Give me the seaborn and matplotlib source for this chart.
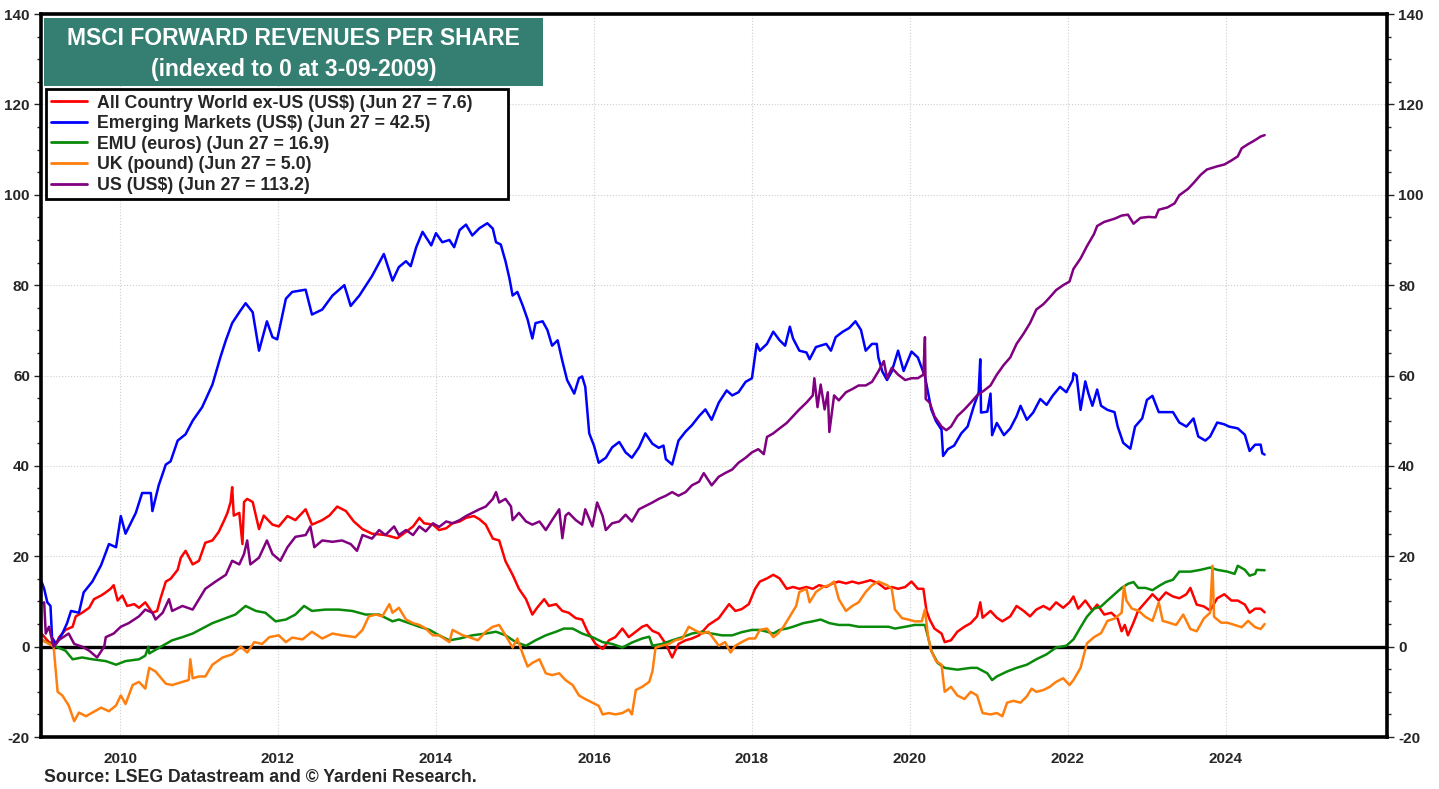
import matplotlib
matplotlib.use("Agg")
import matplotlib.pyplot as plt
import matplotlib.ticker as mticker
from matplotlib.lines import Line2D
from matplotlib.patches import Rectangle
import pandas as pd
import seaborn as sns

# (year, index value)
acwi = [(2009.00, 3.0), (2009.10, 1.0), (2009.19, 0.6), (2009.23, 2.1), (2009.31, 3.7), (2009.40, 4.4),
        (2009.44, 6.7), (2009.52, 7.5), (2009.61, 8.6), (2009.67, 10.5), (2009.76, 11.3), (2009.82, 12.0),
        (2009.88, 12.8), (2009.92, 13.6), (2009.97, 10.2), (2010.03, 11.3), (2010.09, 9.0), (2010.18, 9.4),
        (2010.24, 8.6), (2010.32, 9.8), (2010.41, 7.5), (2010.47, 7.9), (2010.51, 10.5), (2010.58, 14.4),
        (2010.64, 15.0), (2010.73, 17.0), (2010.77, 19.7), (2010.83, 21.2), (2010.92, 18.2), (2011.00, 19.0),
        (2011.08, 23.0), (2011.17, 23.5), (2011.25, 25.4), (2011.32, 28.0), (2011.36, 29.6), (2011.40, 32.0),
        (2011.42, 35.3), (2011.44, 29.0), (2011.51, 29.6), (2011.55, 22.7), (2011.57, 32.0), (2011.61, 32.7),
        (2011.68, 32.0), (2011.76, 26.0), (2011.82, 29.0), (2011.93, 27.0), (2012.01, 26.6), (2012.12, 28.9),
        (2012.22, 28.0), (2012.35, 30.4), (2012.43, 27.0), (2012.56, 28.0), (2012.65, 29.0), (2012.75, 31.0),
        (2012.86, 30.0), (2012.96, 27.7), (2013.07, 26.0), (2013.19, 25.0), (2013.36, 24.7), (2013.51, 24.0),
        (2013.62, 25.4), (2013.71, 26.6), (2013.79, 28.5), (2013.85, 27.3), (2013.96, 27.0), (2014.04, 25.8),
        (2014.13, 26.2), (2014.21, 27.3), (2014.30, 27.7), (2014.38, 28.5), (2014.48, 28.9), (2014.55, 28.2),
        (2014.63, 27.0), (2014.72, 23.9), (2014.80, 23.5), (2014.88, 18.9), (2014.97, 15.9), (2015.05, 12.8),
        (2015.14, 10.5), (2015.22, 7.1), (2015.28, 8.6), (2015.37, 10.5), (2015.43, 9.0), (2015.52, 9.4),
        (2015.60, 7.9), (2015.68, 7.5), (2015.77, 6.3), (2015.85, 6.0), (2015.92, 3.3), (2016.02, 0.6),
        (2016.11, -0.5), (2016.19, 1.4), (2016.27, 2.1), (2016.36, 4.0), (2016.44, 2.1), (2016.53, 3.3),
        (2016.61, 4.4), (2016.67, 4.8), (2016.74, 3.5), (2016.82, 2.9), (2016.91, 0.6), (2016.99, -2.4),
        (2017.07, 0.6), (2017.16, 1.4), (2017.24, 1.8), (2017.33, 2.5), (2017.45, 4.8), (2017.58, 6.3),
        (2017.71, 9.4), (2017.79, 7.9), (2017.87, 8.3), (2017.96, 9.4), (2018.04, 12.8), (2018.10, 14.4),
        (2018.19, 15.1), (2018.27, 15.9), (2018.35, 15.1), (2018.44, 12.8), (2018.52, 13.2), (2018.60, 12.8),
        (2018.69, 13.2), (2018.77, 12.8), (2018.85, 13.6), (2018.94, 13.2), (2019.02, 14.0), (2019.10, 14.4),
        (2019.19, 14.0), (2019.27, 14.4), (2019.35, 14.0), (2019.44, 14.4), (2019.50, 14.7), (2019.60, 14.0),
        (2019.69, 12.8), (2019.77, 13.2), (2019.85, 12.8), (2019.94, 13.2), (2020.02, 14.4), (2020.10, 12.8),
        (2020.17, 12.8), (2020.21, 7.9), (2020.25, 6.0), (2020.31, 4.0), (2020.40, 2.9), (2020.44, 1.0),
        (2020.52, 1.4), (2020.60, 3.3), (2020.69, 4.4), (2020.77, 5.2), (2020.85, 6.7), (2020.89, 9.8),
        (2020.92, 6.4), (2021.02, 7.9), (2021.10, 6.4), (2021.17, 5.6), (2021.27, 6.7), (2021.35, 9.0),
        (2021.44, 7.9), (2021.52, 6.7), (2021.60, 8.2), (2021.69, 9.0), (2021.77, 8.2), (2021.85, 9.8),
        (2021.94, 8.6), (2022.02, 9.8), (2022.07, 11.1), (2022.13, 8.4), (2022.22, 10.2), (2022.31, 8.0),
        (2022.37, 9.3), (2022.46, 7.1), (2022.55, 7.5), (2022.63, 6.2), (2022.68, 3.4), (2022.72, 4.8),
        (2022.76, 2.5), (2022.83, 5.3), (2022.89, 8.0), (2022.98, 9.8), (2023.07, 11.6), (2023.15, 10.2),
        (2023.24, 12.0), (2023.33, 11.1), (2023.41, 10.7), (2023.50, 11.6), (2023.55, 13.0), (2023.63, 9.3),
        (2023.72, 8.9), (2023.80, 8.0), (2023.89, 10.7), (2023.98, 11.6), (2024.07, 10.2), (2024.15, 10.2),
        (2024.24, 9.3), (2024.30, 7.5), (2024.37, 8.4), (2024.44, 8.4), (2024.49, 7.6)]

em = [(2009.00, 14.7), (2009.04, 12.8), (2009.08, 9.8), (2009.12, 9.0), (2009.14, 2.0), (2009.19, 0.6),
      (2009.27, 2.9), (2009.33, 5.2), (2009.38, 7.9), (2009.48, 7.5), (2009.54, 12.0), (2009.65, 14.4),
      (2009.76, 18.0), (2009.86, 22.7), (2009.95, 22.0), (2010.01, 28.9), (2010.07, 25.0), (2010.20, 29.6),
      (2010.28, 34.0), (2010.39, 34.0), (2010.41, 30.0), (2010.49, 35.7), (2010.58, 40.3), (2010.64, 41.0),
      (2010.73, 45.6), (2010.83, 47.0), (2010.92, 50.0), (2011.04, 53.0), (2011.17, 58.0), (2011.27, 64.0),
      (2011.34, 67.8), (2011.42, 71.6), (2011.51, 74.0), (2011.59, 76.0), (2011.68, 74.0), (2011.76, 65.5),
      (2011.86, 72.0), (2011.93, 68.5), (2011.99, 68.0), (2012.10, 77.0), (2012.18, 78.5), (2012.35, 79.0),
      (2012.43, 73.5), (2012.56, 74.6), (2012.69, 77.7), (2012.84, 80.0), (2012.92, 75.4), (2013.03, 77.7),
      (2013.19, 82.0), (2013.34, 86.9), (2013.45, 81.0), (2013.53, 84.0), (2013.62, 85.3), (2013.68, 84.2),
      (2013.75, 88.4), (2013.83, 91.8), (2013.94, 88.8), (2014.00, 91.5), (2014.08, 89.5), (2014.17, 90.0),
      (2014.23, 88.4), (2014.30, 92.2), (2014.38, 93.4), (2014.46, 91.0), (2014.55, 92.6), (2014.65, 93.7),
      (2014.72, 92.5), (2014.76, 89.5), (2014.82, 89.0), (2014.88, 85.3), (2014.93, 81.5), (2014.97, 77.7),
      (2015.03, 78.5), (2015.10, 75.4), (2015.16, 72.4), (2015.22, 68.2), (2015.26, 71.6), (2015.35, 72.0),
      (2015.41, 70.1), (2015.47, 66.6), (2015.54, 67.8), (2015.60, 63.2), (2015.66, 59.0), (2015.75, 56.0),
      (2015.81, 59.4), (2015.85, 59.8), (2015.89, 57.5), (2015.94, 47.2), (2016.00, 44.5), (2016.06, 40.7),
      (2016.15, 41.8), (2016.23, 44.1), (2016.32, 45.3), (2016.40, 43.0), (2016.48, 41.8), (2016.57, 44.1),
      (2016.65, 47.2), (2016.74, 44.9), (2016.82, 44.0), (2016.88, 44.5), (2016.91, 41.5), (2016.99, 40.3),
      (2017.07, 45.6), (2017.16, 47.6), (2017.24, 49.0), (2017.33, 51.0), (2017.41, 52.5), (2017.49, 50.2),
      (2017.58, 54.0), (2017.68, 56.7), (2017.75, 55.6), (2017.83, 56.3), (2017.92, 58.6), (2018.00, 59.4),
      (2018.06, 67.0), (2018.10, 65.5), (2018.19, 67.0), (2018.27, 69.7), (2018.35, 67.8), (2018.42, 66.6),
      (2018.48, 70.8), (2018.52, 68.2), (2018.60, 65.5), (2018.69, 65.1), (2018.73, 63.6), (2018.81, 66.3),
      (2018.94, 67.0), (2019.00, 65.5), (2019.06, 68.5), (2019.15, 69.7), (2019.23, 70.5), (2019.31, 72.0),
      (2019.38, 70.1), (2019.44, 65.5), (2019.52, 67.0), (2019.58, 67.0), (2019.60, 64.0), (2019.65, 60.9),
      (2019.71, 59.0), (2019.77, 60.9), (2019.85, 65.5), (2019.92, 61.0), (2020.02, 65.3), (2020.10, 64.0),
      (2020.19, 59.8), (2020.27, 52.5), (2020.33, 49.9), (2020.40, 48.0), (2020.42, 42.2), (2020.48, 43.7),
      (2020.56, 44.5), (2020.65, 47.2), (2020.73, 48.7), (2020.81, 53.3), (2020.87, 56.3), (2020.89, 63.6),
      (2020.90, 51.8), (2020.98, 52.0), (2021.02, 56.0), (2021.04, 46.8), (2021.10, 49.5), (2021.19, 46.8),
      (2021.27, 48.3), (2021.35, 51.0), (2021.40, 53.3), (2021.48, 50.2), (2021.56, 51.8), (2021.65, 54.8),
      (2021.73, 53.5), (2021.81, 55.6), (2021.90, 57.5), (2021.98, 56.3), (2022.06, 59.0), (2022.07, 60.5),
      (2022.11, 60.0), (2022.16, 52.4), (2022.22, 58.7), (2022.26, 56.0), (2022.31, 53.3), (2022.37, 56.9),
      (2022.42, 53.3), (2022.50, 52.4), (2022.59, 51.9), (2022.63, 48.7), (2022.70, 45.1), (2022.79, 43.8),
      (2022.85, 48.7), (2022.94, 50.5), (2023.00, 54.6), (2023.07, 55.5), (2023.15, 51.9), (2023.24, 51.9),
      (2023.33, 51.9), (2023.41, 49.6), (2023.50, 48.7), (2023.59, 50.5), (2023.65, 46.5), (2023.74, 45.6),
      (2023.80, 46.5), (2023.89, 49.6), (2023.98, 49.2), (2024.04, 48.7), (2024.15, 48.3), (2024.24, 46.9),
      (2024.30, 43.3), (2024.37, 44.7), (2024.44, 44.7), (2024.46, 42.8), (2024.49, 42.5)]

emu = [(2009.02, 1.4), (2009.19, 0.0), (2009.31, -0.9), (2009.40, -2.8), (2009.52, -2.4), (2009.65, -2.8),
       (2009.82, -3.2), (2009.95, -4.0), (2010.07, -3.2), (2010.24, -2.8), (2010.32, -2.0), (2010.36, 0.0),
       (2010.37, -1.5), (2010.43, -0.9), (2010.54, 0.2), (2010.66, 1.4), (2010.79, 2.1), (2010.92, 2.9),
       (2011.04, 4.0), (2011.17, 5.2), (2011.34, 6.3), (2011.46, 7.1), (2011.59, 9.0), (2011.72, 7.9),
       (2011.84, 7.5), (2011.97, 5.6), (2012.10, 6.0), (2012.22, 7.1), (2012.33, 9.0), (2012.43, 7.9),
       (2012.60, 8.2), (2012.77, 8.2), (2012.94, 7.9), (2013.11, 7.1), (2013.28, 7.1), (2013.45, 5.6),
       (2013.53, 6.0), (2013.66, 5.2), (2013.79, 4.4), (2013.92, 3.7), (2014.04, 2.5), (2014.17, 1.4),
       (2014.30, 1.8), (2014.46, 2.5), (2014.63, 2.9), (2014.76, 3.3), (2014.88, 2.5), (2015.01, 1.0),
       (2015.14, 0.2), (2015.26, 1.4), (2015.39, 2.5), (2015.52, 3.3), (2015.62, 4.0), (2015.73, 4.0),
       (2015.85, 2.9), (2015.98, 2.1), (2016.11, 1.0), (2016.23, 0.6), (2016.36, -0.2), (2016.48, 0.9),
       (2016.61, 1.8), (2016.70, 2.2), (2016.74, 0.2), (2016.86, 0.6), (2016.99, 1.4), (2017.12, 2.1),
       (2017.24, 2.9), (2017.37, 3.3), (2017.49, 2.9), (2017.62, 2.5), (2017.75, 2.5), (2017.87, 3.2),
       (2018.00, 3.7), (2018.10, 3.7), (2018.19, 3.3), (2018.27, 2.9), (2018.35, 3.7), (2018.44, 4.0),
       (2018.52, 4.4), (2018.65, 5.2), (2018.77, 5.6), (2018.87, 6.0), (2018.98, 5.2), (2019.10, 4.8),
       (2019.23, 4.8), (2019.35, 4.4), (2019.48, 4.4), (2019.60, 4.4), (2019.73, 4.4), (2019.81, 4.0),
       (2019.94, 4.4), (2020.06, 4.8), (2020.19, 4.8), (2020.23, 2.1), (2020.27, -0.9), (2020.35, -3.6),
       (2020.44, -4.7), (2020.60, -5.1), (2020.77, -4.7), (2020.85, -4.7), (2020.98, -5.9), (2021.04, -7.4),
       (2021.10, -6.6), (2021.23, -5.5), (2021.35, -4.7), (2021.48, -4.0), (2021.60, -2.8), (2021.73, -1.7),
       (2021.85, -0.2), (2021.98, 0.2), (2022.07, 1.6), (2022.16, 4.3), (2022.24, 6.6), (2022.33, 8.4),
       (2022.42, 8.9), (2022.50, 10.2), (2022.59, 11.6), (2022.68, 13.0), (2022.76, 13.9), (2022.83, 14.3),
       (2022.89, 13.0), (2022.98, 13.0), (2023.07, 12.5), (2023.15, 13.4), (2023.24, 14.3), (2023.33, 14.8),
       (2023.41, 16.6), (2023.55, 16.6), (2023.68, 17.0), (2023.80, 17.5), (2023.89, 17.0), (2024.02, 16.6),
       (2024.11, 16.1), (2024.15, 17.9), (2024.24, 17.0), (2024.30, 15.7), (2024.37, 16.1), (2024.39, 17.0),
       (2024.49, 16.9)]

uk = [(2009.02, 1.4), (2009.16, 0.0), (2009.21, -10.0), (2009.27, -10.8), (2009.35, -13.0), (2009.42, -16.5),
      (2009.48, -14.6), (2009.57, -15.4), (2009.65, -14.6), (2009.76, -13.5), (2009.86, -14.3), (2009.95, -13.0),
      (2010.01, -10.8), (2010.07, -12.7), (2010.16, -8.5), (2010.24, -7.8), (2010.32, -9.3), (2010.37, -4.7),
      (2010.45, -5.5), (2010.58, -8.2), (2010.66, -8.5), (2010.79, -7.8), (2010.87, -7.4), (2010.89, -2.8),
      (2010.92, -7.0), (2011.00, -6.6), (2011.08, -6.6), (2011.17, -4.0), (2011.30, -2.4), (2011.42, -1.7),
      (2011.53, 0.0), (2011.61, -1.3), (2011.70, 1.0), (2011.80, 0.6), (2011.89, 2.1), (2012.01, 2.5),
      (2012.10, 1.0), (2012.18, 2.0), (2012.31, 1.6), (2012.43, 3.3), (2012.56, 1.8), (2012.69, 2.9),
      (2012.81, 2.5), (2012.98, 2.1), (2013.07, 3.7), (2013.15, 6.7), (2013.24, 7.1), (2013.32, 6.7),
      (2013.41, 9.4), (2013.45, 7.5), (2013.53, 8.6), (2013.62, 6.0), (2013.71, 5.2), (2013.79, 4.8),
      (2013.87, 4.0), (2013.96, 2.5), (2014.04, 2.5), (2014.17, 1.0), (2014.21, 3.7), (2014.34, 2.5),
      (2014.42, 2.1), (2014.53, 1.4), (2014.63, 3.3), (2014.72, 4.4), (2014.80, 4.8), (2014.88, 2.5),
      (2014.97, -0.2), (2015.03, 1.8), (2015.10, -1.7), (2015.16, -4.4), (2015.22, -3.6), (2015.31, -2.8),
      (2015.39, -5.9), (2015.47, -6.3), (2015.56, -5.9), (2015.64, -7.4), (2015.73, -8.5), (2015.81, -10.8),
      (2015.89, -11.6), (2015.98, -12.4), (2016.06, -13.1), (2016.11, -15.0), (2016.19, -14.7), (2016.27, -15.0),
      (2016.36, -14.7), (2016.44, -13.9), (2016.48, -15.0), (2016.53, -9.6), (2016.61, -8.9), (2016.70, -7.8),
      (2016.74, -5.5), (2016.78, -0.2), (2016.86, 0.2), (2016.95, 0.6), (2017.03, 1.4), (2017.12, 1.8),
      (2017.20, 4.4), (2017.28, 3.6), (2017.37, 2.9), (2017.45, 3.3), (2017.58, 0.2), (2017.66, 1.0),
      (2017.73, -1.3), (2017.79, 0.2), (2017.87, 1.0), (2017.96, 1.8), (2018.04, 1.8), (2018.10, 3.7),
      (2018.19, 4.0), (2018.27, 2.1), (2018.33, 2.9), (2018.40, 4.4), (2018.48, 6.7), (2018.56, 9.0),
      (2018.60, 12.1), (2018.69, 12.8), (2018.73, 9.8), (2018.81, 12.1), (2018.90, 13.2), (2018.98, 13.6),
      (2019.04, 14.4), (2019.10, 10.5), (2019.19, 7.9), (2019.27, 9.0), (2019.35, 9.8), (2019.44, 12.1),
      (2019.52, 13.6), (2019.60, 14.4), (2019.71, 13.6), (2019.77, 12.8), (2019.81, 8.2), (2019.90, 6.3),
      (2019.98, 6.0), (2020.06, 5.6), (2020.15, 5.6), (2020.19, 8.2), (2020.23, 2.1), (2020.27, -0.9),
      (2020.33, -3.2), (2020.40, -4.0), (2020.44, -10.0), (2020.52, -8.9), (2020.60, -10.8), (2020.69, -11.6),
      (2020.77, -10.0), (2020.85, -10.8), (2020.92, -14.7), (2021.02, -15.0), (2021.10, -14.7), (2021.17, -15.4),
      (2021.23, -12.4), (2021.31, -12.0), (2021.40, -12.4), (2021.48, -11.0), (2021.54, -9.3), (2021.60, -10.0),
      (2021.69, -9.6), (2021.77, -8.9), (2021.85, -7.8), (2021.94, -7.0), (2022.02, -8.5), (2022.07, -7.4),
      (2022.16, -4.7), (2022.24, 0.7), (2022.33, 2.1), (2022.42, 3.0), (2022.50, 5.7), (2022.59, 6.2),
      (2022.68, 7.5), (2022.71, 13.4), (2022.74, 10.2), (2022.81, 8.4), (2022.89, 8.0), (2022.98, 6.6),
      (2023.07, 5.7), (2023.15, 9.8), (2023.20, 5.7), (2023.28, 5.3), (2023.37, 4.8), (2023.46, 7.1),
      (2023.55, 3.9), (2023.63, 3.4), (2023.72, 6.2), (2023.80, 7.5), (2023.83, 17.9), (2023.85, 6.6),
      (2023.94, 5.3), (2024.02, 5.3), (2024.11, 4.8), (2024.20, 4.3), (2024.28, 5.7), (2024.37, 4.3),
      (2024.44, 3.9), (2024.49, 5.0)]

us = [(2009.00, 9.5), (2009.04, 9.8), (2009.06, 2.9), (2009.10, 4.4), (2009.16, 0.0), (2009.23, 1.5),
      (2009.35, 2.9), (2009.42, 0.6), (2009.52, 0.0), (2009.61, -0.9), (2009.71, -2.4), (2009.80, 0.0),
      (2009.82, 2.1), (2009.92, 2.9), (2010.01, 4.4), (2010.11, 5.2), (2010.24, 6.7), (2010.32, 8.2),
      (2010.41, 7.5), (2010.45, 6.0), (2010.54, 7.5), (2010.62, 10.5), (2010.66, 7.9), (2010.79, 9.0),
      (2010.92, 8.2), (2011.00, 10.5), (2011.08, 12.8), (2011.21, 14.4), (2011.34, 15.9), (2011.42, 19.0),
      (2011.51, 18.2), (2011.57, 20.5), (2011.61, 23.5), (2011.65, 18.2), (2011.76, 19.7), (2011.86, 23.5),
      (2011.93, 20.5), (2012.03, 19.0), (2012.12, 22.0), (2012.22, 24.3), (2012.35, 24.7), (2012.41, 26.6),
      (2012.46, 22.0), (2012.56, 23.5), (2012.69, 23.2), (2012.81, 23.5), (2012.92, 22.7), (2013.00, 21.2),
      (2013.07, 24.7), (2013.19, 23.9), (2013.28, 25.8), (2013.36, 24.7), (2013.47, 26.6), (2013.53, 24.7),
      (2013.62, 25.8), (2013.71, 24.7), (2013.79, 26.6), (2013.87, 25.5), (2013.96, 27.3), (2014.04, 26.5),
      (2014.13, 27.7), (2014.21, 27.3), (2014.30, 28.0), (2014.38, 28.9), (2014.46, 29.6), (2014.55, 30.4),
      (2014.63, 31.0), (2014.72, 32.7), (2014.76, 34.2), (2014.80, 31.9), (2014.88, 32.7), (2014.95, 31.0),
      (2014.97, 28.0), (2015.05, 29.6), (2015.14, 27.7), (2015.22, 27.0), (2015.31, 27.7), (2015.39, 25.8),
      (2015.47, 28.0), (2015.56, 30.4), (2015.60, 24.0), (2015.64, 29.0), (2015.68, 29.6), (2015.77, 28.0),
      (2015.85, 27.0), (2015.89, 30.4), (2015.98, 26.6), (2016.04, 31.9), (2016.11, 28.9), (2016.15, 25.8),
      (2016.23, 27.3), (2016.32, 27.7), (2016.40, 29.2), (2016.48, 27.7), (2016.57, 30.4), (2016.65, 31.1),
      (2016.74, 31.9), (2016.82, 32.7), (2016.91, 33.4), (2016.99, 34.2), (2017.07, 33.4), (2017.16, 34.2),
      (2017.24, 35.7), (2017.33, 36.5), (2017.39, 38.4), (2017.49, 35.7), (2017.58, 37.6), (2017.66, 38.4),
      (2017.75, 39.2), (2017.83, 40.7), (2017.92, 41.8), (2018.00, 43.0), (2018.08, 43.7), (2018.15, 42.6),
      (2018.19, 46.4), (2018.27, 47.2), (2018.35, 48.3), (2018.44, 49.5), (2018.52, 51.0), (2018.60, 52.5),
      (2018.69, 54.0), (2018.77, 55.6), (2018.79, 59.4), (2018.83, 53.0), (2018.87, 58.0), (2018.92, 52.5),
      (2018.96, 56.3), (2018.98, 47.5), (2019.04, 55.6), (2019.10, 54.5), (2019.19, 56.3), (2019.27, 57.0),
      (2019.35, 57.8), (2019.44, 57.8), (2019.52, 58.6), (2019.60, 60.9), (2019.67, 63.2), (2019.71, 59.4),
      (2019.77, 61.7), (2019.85, 60.2), (2019.94, 59.0), (2020.02, 59.4), (2020.10, 59.4), (2020.17, 60.2),
      (2020.19, 68.5), (2020.20, 54.8), (2020.25, 54.0), (2020.31, 51.0), (2020.40, 48.7), (2020.46, 47.9),
      (2020.52, 48.7), (2020.60, 51.0), (2020.69, 52.5), (2020.77, 54.0), (2020.85, 55.6), (2020.94, 56.7),
      (2021.02, 57.8), (2021.10, 60.2), (2021.19, 62.4), (2021.27, 64.0), (2021.35, 67.0), (2021.44, 69.3),
      (2021.52, 71.6), (2021.60, 74.6), (2021.69, 75.8), (2021.77, 77.3), (2021.85, 78.9), (2021.94, 80.0),
      (2022.02, 80.8), (2022.07, 83.6), (2022.16, 85.9), (2022.24, 88.6), (2022.33, 91.3), (2022.37, 93.1),
      (2022.46, 94.0), (2022.59, 94.7), (2022.68, 95.4), (2022.76, 95.6), (2022.83, 93.6), (2022.92, 94.9),
      (2023.02, 95.1), (2023.11, 95.0), (2023.15, 96.7), (2023.26, 97.2), (2023.35, 98.1), (2023.41, 99.9),
      (2023.52, 101.3), (2023.59, 102.6), (2023.68, 104.4), (2023.76, 105.6), (2023.89, 106.3), (2023.98, 106.7),
      (2024.07, 107.6), (2024.15, 108.5), (2024.20, 110.3), (2024.28, 111.2), (2024.37, 112.1), (2024.44, 112.9),
      (2024.49, 113.2)]

labels = ["All Country World ex-US (US$) (Jun 27 = 7.6)",
          "Emerging Markets (US$) (Jun 27 = 42.5)",
          "EMU (euros) (Jun 27 = 16.9)",
          "UK (pound) (Jun 27 = 5.0)",
          "US (US$) (Jun 27 = 113.2)"]
colors = ["#ff0000", "#0000ff", "#0a8a0a", "#ff7f0e", "#800080"]
year_ticks = [2010, 2012, 2014, 2016, 2018, 2020, 2022, 2024]

# long table for seaborn
frames = []
for name, pts in zip(labels, [acwi, em, emu, uk, us]):
    d = pd.DataFrame(pts, columns=["year", "value"])
    d["series"] = name
    frames.append(d)
df = pd.concat(frames, ignore_index=True)

sns.set_style("white")
plt.rcParams["font.family"] = ["Liberation Sans", "DejaVu Sans"]
plt.rcParams["font.weight"] = "bold"
plt.rcParams["axes.unicode_minus"] = False

fig = plt.figure(figsize=(14.39, 7.89), dpi=100)
ax = fig.add_axes([0.0285, 0.0659, 0.9354, 0.9163])

ax.axhline(0, color="black", lw=2.4, zorder=1)
sns.lineplot(data=df, x="year", y="value", hue="series", hue_order=labels,
             palette=colors, estimator=None, sort=False, lw=1.8, legend=False, ax=ax, zorder=2)

ax.set_xlim(2009.0, 2026.04)
ax.set_ylim(-20, 140)
ax.set_xlabel("")
ax.set_ylabel("")

ax.xaxis.set_major_locator(mticker.FixedLocator(year_ticks))
ax.xaxis.set_minor_locator(mticker.MultipleLocator(0.25))
ax.yaxis.set_major_locator(mticker.MultipleLocator(20))
ax.yaxis.set_minor_locator(mticker.MultipleLocator(5))
ax.grid(True, which="major", linestyle=":", color="#cfcfcf", lw=0.8)

ax.tick_params(axis="x", which="major", direction="out", length=5, width=1, pad=6,
               labelsize=11, top=False)
ax.tick_params(axis="x", which="minor", direction="out", length=3, width=1, top=False)
ax.tick_params(axis="y", which="major", direction="out", length=5, width=1, pad=3,
               labelsize=11, left=True, right=True, labelleft=True, labelright=True)
ax.tick_params(axis="y", which="minor", direction="out", length=3, width=1, left=True, right=True)
for t in ax.xaxis.get_major_ticks() + ax.yaxis.get_major_ticks():
    t.label1.set_fontweight("bold")
    t.label2.set_fontweight("bold")

for sp in ax.spines.values():
    sp.set_color("black")
    sp.set_linewidth(2.6)

# title box
ax.add_patch(Rectangle((0.002, 0.9), 0.371, 0.095, transform=ax.transAxes,
                       facecolor="#347f72", edgecolor="none", zorder=5))
ax.text(0.1876, 0.966, "MSCI FORWARD REVENUES PER SHARE", transform=ax.transAxes,
        ha="center", va="center", color="white", fontsize=16.5, fontweight="bold", zorder=6)
ax.text(0.1876, 0.923, "(indexed to 0 at 3-09-2009)", transform=ax.transAxes,
        ha="center", va="center", color="white", fontsize=16.5, fontweight="bold", zorder=6)

handles = [Line2D([0], [0], color=c, lw=2) for c in colors]
leg = ax.legend(handles, labels, loc="upper left", mode="expand",
                bbox_to_anchor=(0.0037, 0.5, 0.3432, 0.396),
                borderaxespad=0, fancybox=False, framealpha=1, edgecolor="black",
                prop={"weight": "bold", "size": 12.8}, handlelength=2.0, handletextpad=0.55,
                labelspacing=0.2, borderpad=0.3)
leg.get_frame().set_linewidth(2)
leg.set_zorder(6)

fig.text(44 / 1439, 1 - 778 / 789, "Source: LSEG Datastream and \u00a9 Yardeni Research.",
         ha="left", va="center", fontsize=12.7, fontweight="bold")

fig.savefig("out.png", dpi=100)
